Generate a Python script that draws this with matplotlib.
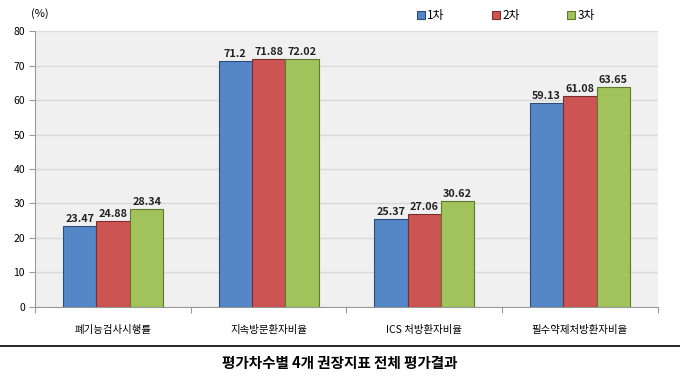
import numpy as np
import matplotlib.pyplot as plt

plt.rcParams['font.family'] = ['Noto Sans CJK KR', 'DejaVu Sans']

categories = ['폐기능검사시행률', '지속방문환자비율', 'ICS 처방환자비율', '필수약제처방환자비율']
series_names = ['1차', '2차', '3차']
round1 = [23.47, 71.2, 25.37, 59.13]
round2 = [24.88, 71.88, 27.06, 61.08]
round3 = [28.34, 72.02, 30.62, 63.65]
value_labels = [['23.47', '71.2', '25.37', '59.13'],
                ['24.88', '71.88', '27.06', '61.08'],
                ['28.34', '72.02', '30.62', '63.65']]
colors = ['#5586c8', '#cc5553', '#a2c35c']
edges = ['#2c4d75', '#7a2f2d', '#5d7a2f']

fig = plt.figure(figsize=(6.8, 3.89), dpi=100)
ax = fig.add_axes([0.052, 0.211, 0.915, 0.709])
ax.set_facecolor('#f0f0f0')

x = np.arange(len(categories))
w = 0.215
for i, vals in enumerate([round1, round2, round3]):
    bars = ax.bar(x + (i - 1) * w, vals, w, color=colors[i], edgecolor=edges[i],
                  linewidth=0.8, label=series_names[i], zorder=3)
    for b, txt in zip(bars, value_labels[i]):
        ax.text(b.get_x() + b.get_width() / 2, b.get_height() + 0.6, txt,
                ha='center', va='bottom', fontsize=7.8, fontweight='bold', color='#222222')

ax.set_ylim(0, 80)
ax.set_xlim(-0.5, 3.5)
ax.set_yticks(range(0, 81, 10))
ax.yaxis.grid(True, color='#d9d9d9', linewidth=1, zorder=0)
ax.set_xticks(np.arange(-0.5, 4, 1))
ax.set_xticklabels([])
ax.set_xticks(x, minor=True)
ax.set_xticklabels(categories, minor=True, fontsize=7.5)
ax.tick_params(axis='x', which='minor', length=0, pad=13)
ax.tick_params(axis='x', which='major', length=4, color='#999999')
ax.tick_params(axis='y', labelsize=7.5, length=4, color='#999999')
for s in ['top', 'right']:
    ax.spines[s].set_visible(False)
ax.spines['left'].set_color('#999999')
ax.spines['bottom'].set_color('#999999')

fig.text(0.045, 0.965, '(%)', fontsize=8, ha='left', va='center')
ax.legend(loc='lower left', bbox_to_anchor=(0.605, 1.015), ncol=3, frameon=False,
          fontsize=8.5, handlelength=0.7, handleheight=0.7, columnspacing=4.0,
          handletextpad=0.2, borderaxespad=0)

fig.add_artist(plt.Line2D([0, 1], [0.11, 0.11], color='black', linewidth=1.2))
fig.text(0.5, 0.066, '평가차수별 4개 권장지표 전체 평가결과', ha='center', va='center',
         fontsize=10.5, fontweight='bold')

fig.savefig('out.png', dpi=100)
